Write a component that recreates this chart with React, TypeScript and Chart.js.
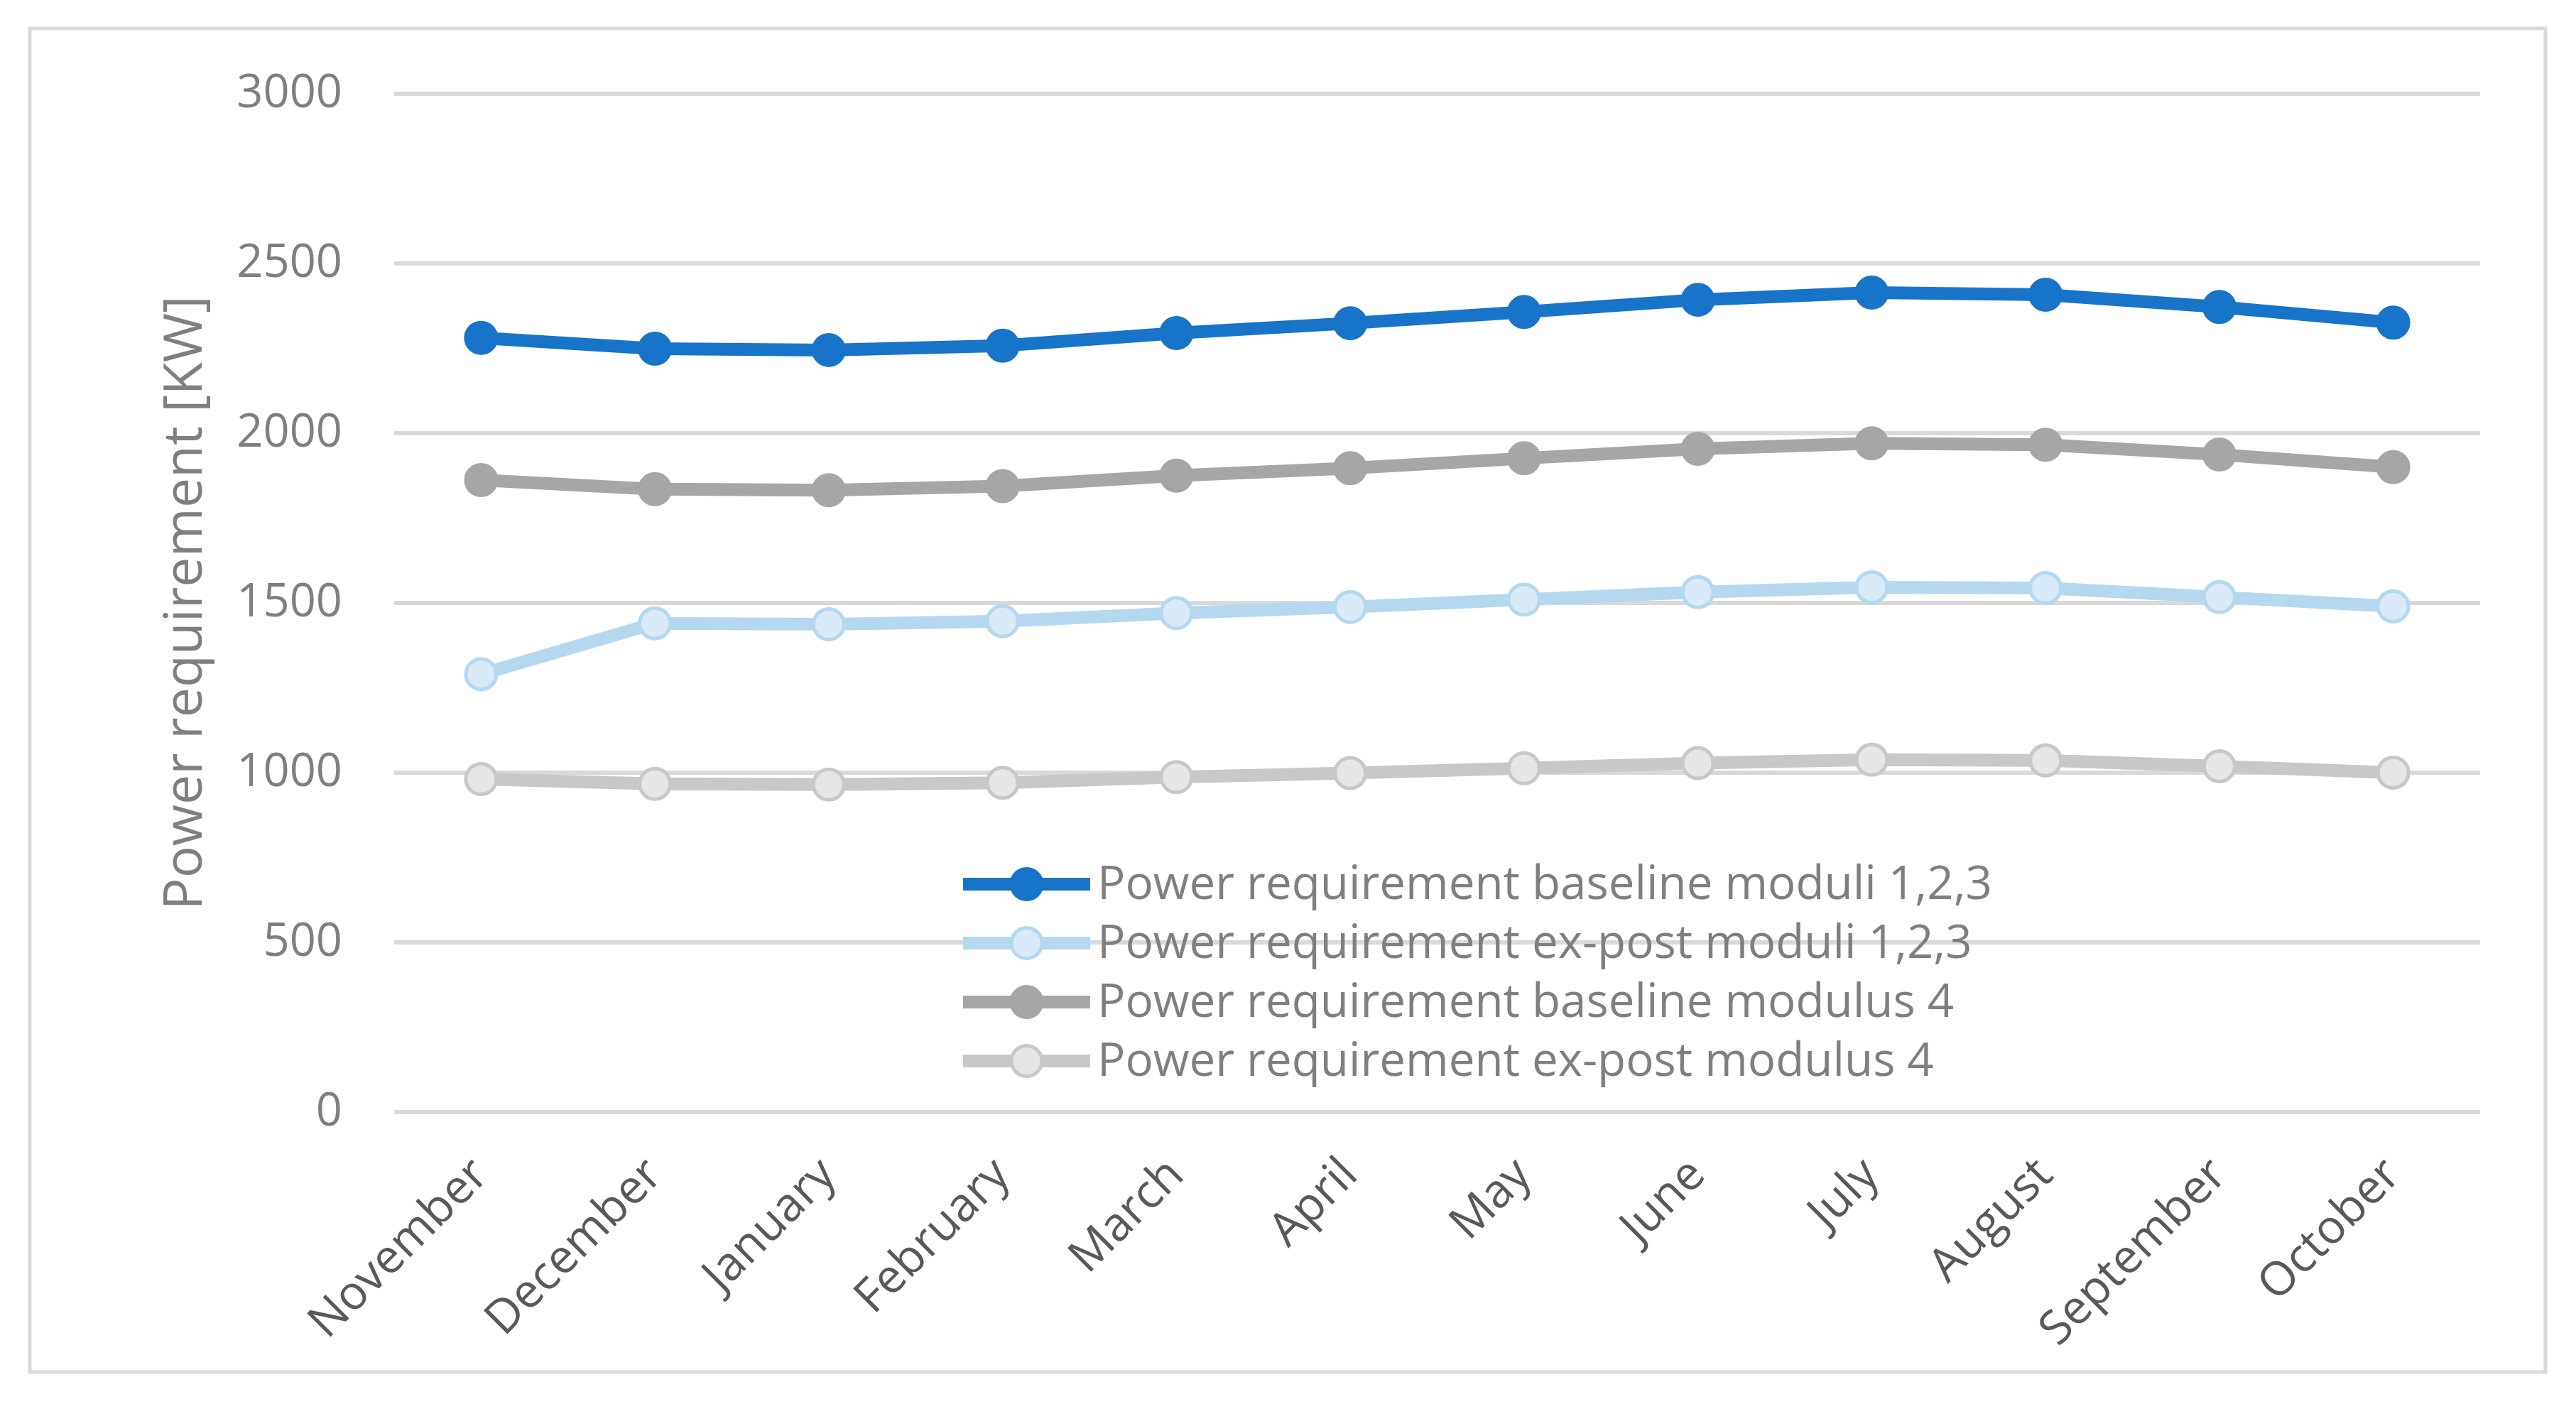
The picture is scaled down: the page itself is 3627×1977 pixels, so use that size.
import React, { useEffect, useRef } from "react";
import { Chart, registerables } from "chart.js";

Chart.register(...registerables);

const months = ["November", "December", "January", "February", "March", "April", "May", "June", "July", "August", "September", "October"];
const baseline123 = [2281, 2249, 2245, 2258, 2295, 2324, 2357, 2393, 2414, 2408, 2372, 2326];
const expost123 = [1290, 1440, 1437, 1446, 1470, 1488, 1510, 1532, 1546, 1544, 1517, 1490];
const baseline4 = [1862, 1835, 1832, 1844, 1875, 1897, 1926, 1954, 1970, 1966, 1937, 1900];
const expost4 = [981, 967, 965, 970, 987, 999, 1013, 1028, 1038, 1036, 1019, 1000];
const seriesLabels = [
  "Power requirement baseline moduli 1,2,3",
  "Power requirement ex-post moduli 1,2,3",
  "Power requirement baseline modulus 4",
  "Power requirement ex-post modulus 4",
];
const yTitle = "Power requirement [KW]";

const FONT = "'Open Sans', 'Noto Sans', sans-serif";
const W = 3627;
const H = 1977;

const frame = {
  id: "frame",
  beforeDraw(chart: any) {
    const c = chart.ctx;
    c.save();
    c.fillStyle = "#ffffff";
    c.fillRect(0, 0, chart.width, chart.height);
    c.strokeStyle = "#d9d9d9";
    c.lineWidth = 5;
    c.strokeRect(42, 40, 3542, 1892);
    c.restore();
  },
};

const innerLegend = {
  id: "innerLegend",
  afterDraw(chart: any) {
    const c = chart.ctx;
    const ca = chart.chartArea;
    const x0 = ca.left + 801;
    const x1 = ca.left + 980;
    const xm = (x0 + x1) / 2;
    const y0 = ca.top + 1113;
    const step = 83;
    c.save();
    chart.data.datasets.forEach((ds: any, i: number) => {
      const y = y0 + i * step;
      c.strokeStyle = ds.borderColor;
      c.lineWidth = ds.borderWidth;
      c.lineCap = "butt";
      c.beginPath();
      c.moveTo(x0, y);
      c.lineTo(x1, y);
      c.stroke();
      c.beginPath();
      c.arc(xm, y, ds.pointRadius, 0, Math.PI * 2);
      c.fillStyle = ds.pointBackgroundColor;
      c.fill();
      c.lineWidth = ds.pointBorderWidth;
      c.strokeStyle = ds.pointBorderColor;
      c.stroke();
      c.fillStyle = "#7f7f7f";
      c.font = `65.5px ${FONT}`;
      c.textAlign = "left";
      c.textBaseline = "middle";
      c.fillText(ds.label, x1 + 10, y + 2);
    });
    c.restore();
  },
};

export default function App() {
  const ref = useRef<HTMLCanvasElement | null>(null);
  useEffect(() => {
    document.body.style.margin = "0";
    const mk = (label: string, data: number[], line: string, fill: string, hollow: boolean) => ({
      label,
      data,
      borderColor: line,
      backgroundColor: line,
      borderWidth: 18,
      borderJoinStyle: "round",
      borderCapStyle: "round",
      pointRadius: hollow ? 21.5 : 23,
      pointBackgroundColor: fill,
      pointBorderColor: line,
      pointBorderWidth: hollow ? 5 : 2,
      tension: 0,
    });
    const chart = new Chart(ref.current as HTMLCanvasElement, {
      type: "line",
      data: {
        labels: months,
        datasets: [
          mk(seriesLabels[0], baseline123, "#1874c8", "#1874c8", false),
          mk(seriesLabels[1], expost123, "#b4d8f0", "#daeaf7", true),
          mk(seriesLabels[2], baseline4, "#a6a6a6", "#a6a6a6", false),
          mk(seriesLabels[3], expost4, "#c8c8c8", "#e6e6e6", true),
        ] as any,
      },
      options: {
        animation: false,
        responsive: false,
        devicePixelRatio: 1,
        layout: { padding: { top: 132, left: 0, right: 135, bottom: 0 } },
        plugins: {
          legend: { display: false },
          tooltip: { enabled: false },
        },
        scales: {
          x: {
            offset: true,
            grid: { display: false },
            border: { display: false },
            ticks: {
              color: "#595959",
              font: { size: 66, family: FONT },
              minRotation: 45,
              maxRotation: 45,
              padding: 42,
            },
            afterFit: (s: any) => {
              s.height = 411;
            },
          },
          y: {
            min: 0,
            max: 3000,
            grid: { color: "#d9d9d9", lineWidth: 6, drawTicks: false },
            border: { display: false },
            ticks: {
              stepSize: 500,
              color: "#7f7f7f",
              font: { size: 65, family: FONT },
              padding: 73,
              callback: (v: any) => String(v),
            },
            title: {
              display: true,
              text: yTitle,
              color: "#7f7f7f",
              font: { size: 75, family: FONT },
              padding: { top: 218, bottom: 0 },
            },
            afterFit: (s: any) => {
              s.width = 555;
            },
          },
        },
      },
      plugins: [frame, innerLegend],
    });
    return () => chart.destroy();
  }, []);
  return <canvas ref={ref} width={W} height={H} style={{ display: "block", width: W, height: H }} />;
}
